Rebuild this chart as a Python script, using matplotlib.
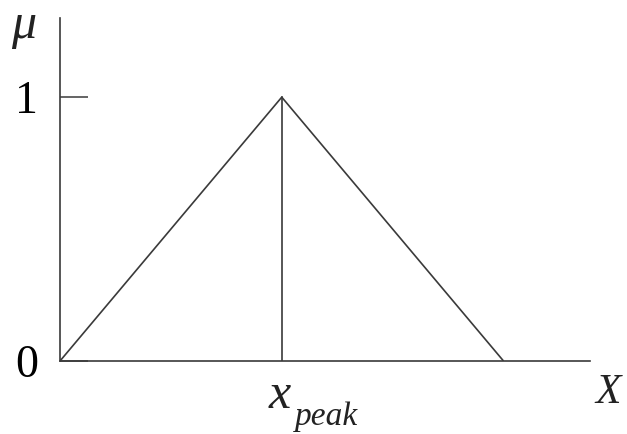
import matplotlib.pyplot as plt

plt.rcParams['font.family'] = ['Liberation Serif', 'DejaVu Serif']

# triangular membership function
x_points = [0.0, 1.0, 2.0]
mu_points = [0.0, 1.0, 0.0]
x_peak = 1.0
y_ticks = [0, 1]
y_tick_labels = ['0', '1']

line_col = '#3a3a3a'

fig = plt.figure(figsize=(6.27, 4.34), dpi=100)
ax = fig.add_axes([60 / 627, (434 - 361) / 434, 530 / 627, 343 / 434])

ax.plot(x_points, mu_points, color=line_col, lw=1.2, solid_capstyle='butt')
ax.plot([x_peak, x_peak], [0, 1], color=line_col, lw=1.2)

ax.set_xlim(0, 2.39)
ax.set_ylim(0, 1.30)

for side in ['top', 'right']:
    ax.spines[side].set_visible(False)
for side in ['left', 'bottom']:
    ax.spines[side].set_color(line_col)
    ax.spines[side].set_linewidth(1.2)

ax.set_yticks(y_ticks)
ax.set_yticklabels(y_tick_labels, fontsize=33)
ax.tick_params(axis='y', direction='in', length=20, width=1.1, color=line_col, pad=16)
ax.set_xticks([])

# axis names
ax.text(-0.165, 1.27, 'μ', fontsize=36, style='italic',
        ha='center', va='center', color='#222222', clip_on=False)
ax.text(x_peak - 0.01, -0.13, 'x', fontsize=36, style='italic',
        ha='center', va='center', color='#222222')
ax.text(x_peak + 0.06, -0.21, 'peak', fontsize=24, style='italic',
        ha='left', va='center', color='#222222')
ax.text(2.47, -0.12, 'X', fontsize=30, style='italic',
        ha='center', va='center', color='#222222', clip_on=False)

fig.savefig('out.png', dpi=100)
